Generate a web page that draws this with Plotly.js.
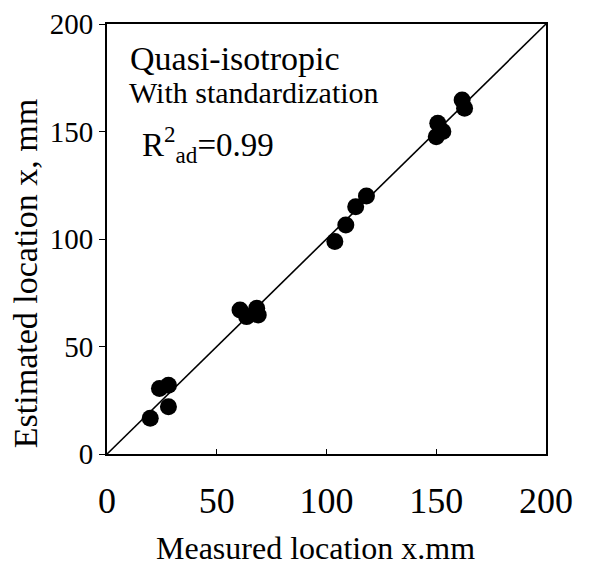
<!DOCTYPE html>
<html><head><meta charset="utf-8">
<script src="https://cdn.plot.ly/plotly-3.0.1.min.js"></script>
<style>html,body{margin:0;padding:0;background:#fff}</style>
</head><body>
<div id="chart" style="width:592px;height:573px"></div>
<script>
const measured = [19.7, 28.0, 23.9, 28.0, 60.6, 63.6, 68.2, 68.9, 103.8, 108.8, 113.3, 118.2, 150.0, 150.7, 153.0, 161.8, 162.9];
const estimated = [16.6, 22.0, 30.5, 32.0, 67.0, 63.9, 67.8, 64.7, 98.8, 106.5, 115.0, 120.0, 147.6, 153.8, 150.0, 164.7, 160.8];
const lineX = [0, 200];
const lineY = [0, 200];
const tickVals = [0, 50, 100, 150, 200];
const tickText = ["0", "50", "100", "150", "200"];
const xTitle = "Measured location x.mm";
const yTitle = "Estimated location x, mm";

const serif = "Liberation Serif, Times New Roman, serif";
const traces = [
  {x: lineX, y: lineY, mode: "lines", line: {color: "#000", width: 1.6}, hoverinfo: "skip", showlegend: false},
  {x: measured, y: estimated, mode: "markers", marker: {color: "#000", size: 17, line: {width: 0}}, showlegend: false}
];
const layout = {
  width: 592, height: 573,
  margin: {l: 107, r: 46, t: 24, b: 119},
  paper_bgcolor: "#fff", plot_bgcolor: "#fff",
  font: {family: serif, color: "#000"},
  xaxis: {
    range: [0, 200], tickvals: tickVals, ticktext: tickText,
    ticks: "inside", ticklen: 5, tickwidth: 1, tickcolor: "#000",
    showline: true, linecolor: "#000", linewidth: 2, mirror: true,
    showgrid: false, zeroline: false,
    tickfont: {family: serif, size: 36, color: "#000"},
    ticklabelstandoff: 14
  },
  yaxis: {
    range: [0, 200], tickvals: tickVals, ticktext: tickText,
    ticks: "outside", ticklen: 6, tickwidth: 1, tickcolor: "#000",
    showline: true, linecolor: "#000", linewidth: 2, mirror: true,
    showgrid: false, zeroline: false,
    tickfont: {family: serif, size: 29, color: "#000"}
  },
  annotations: [
    {xref: "paper", yref: "paper", x: 0.048, y: 0.92, xanchor: "left", yanchor: "middle", showarrow: false,
     text: "Quasi-isotropic", font: {family: serif, size: 34, color: "#000"}},
    {xref: "paper", yref: "paper", x: 0.046, y: 0.84, xanchor: "left", yanchor: "middle", showarrow: false,
     text: "With standardization", font: {family: serif, size: 30, color: "#000"}},
    {xref: "paper", yref: "paper", x: 0.075, y: 0.72, xanchor: "left", yanchor: "middle", showarrow: false,
     text: "R<sup>2</sup><sub>ad</sub>=0.99", font: {family: serif, size: 33, color: "#000"}},
    {xref: "paper", yref: "paper", x: 0.475, y: -0.218, xanchor: "center", yanchor: "middle", showarrow: false,
     text: xTitle, font: {family: serif, size: 32, color: "#000"}},
    {xref: "paper", yref: "paper", x: -0.185, y: 0.42, xanchor: "center", yanchor: "middle", showarrow: false,
     textangle: -90, text: yTitle, font: {family: serif, size: 34, color: "#000"}}
  ]
};
Plotly.newPlot("chart", traces, layout, {displayModeBar: false, staticPlot: true});
</script>
</body></html>
